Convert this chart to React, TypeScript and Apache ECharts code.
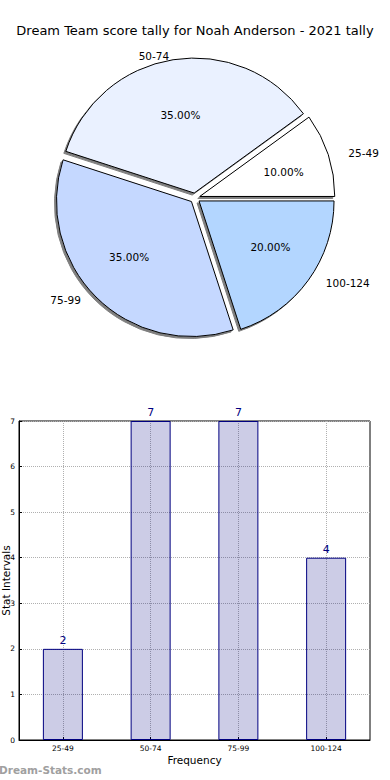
import React, { useEffect, useRef } from "react";
import * as echarts from "echarts";

const titleText = "Dream Team score tally for Noah Anderson - 2021 tally";
const categories = ["25-49", "50-74", "75-99", "100-124"];
const counts = [2, 7, 7, 4];
const pieColors = ["#FFFFFF", "#EAF1FF", "#C5D8FF", "#B3D6FF"];
const yMin = 0;
const yMax = 7;
const yStep = 1;
const xAxisName = "Frequency";
const yAxisName = "Stat Intervals";
const watermark = "Dream-Stats.com";

const FONT = "DejaVu Sans";
const PIE_CX = 195;
const PIE_CY = 198;

// stretch label positions slightly (horizontal wider, vertical flatter) like the reference
const ellipseLabelLayout = (params: any) => {
  const r = params.labelRect;
  const mx = r.x + r.width / 2;
  const my = r.y + r.height / 2;
  return { dx: (mx - PIE_CX) * 0.05, dy: (my - PIE_CY) * -0.06 };
};

export default function App() {
  const ref = useRef<HTMLDivElement>(null);
  useEffect(() => {
    if (!ref.current) return;
    const chart = echarts.init(ref.current, null, { renderer: "svg" });
    const pieData = categories.map((c, i) => ({
      name: c,
      value: counts[i],
      selected: true,
      itemStyle: { color: pieColors[i] },
    }));
    const pieCommon = {
      type: "pie",
      center: [PIE_CX, PIE_CY],
      startAngle: 0,
      clockwise: false,
      selectedMode: "multiple",
      selectedOffset: 5,
      avoidLabelOverlap: false,
      emphasis: { disabled: true },
      animation: false,
      labelLayout: ellipseLabelLayout,
    };
    chart.setOption({
      animation: false,
      backgroundColor: "#ffffff",
      textStyle: { fontFamily: FONT },
      title: {
        text: titleText,
        left: "center",
        top: 19,
        textStyle: { fontFamily: FONT, fontSize: 13, fontWeight: "normal", color: "#000" },
      },
      grid: {
        left: 19,
        right: 20,
        top: 421,
        bottom: 40,
        outerBoundsMode: "none",
        containLabel: false,
        show: true,
        borderColor: "#000",
        borderWidth: 1,
        backgroundColor: "transparent",
      },
      xAxis: {
        type: "category",
        data: categories,
        name: xAxisName,
        nameLocation: "middle",
        nameGap: 14,
        nameMoveOverlap: false,
        nameTextStyle: { fontFamily: FONT, fontSize: 10.5, color: "#000" },
        axisLine: { show: true, lineStyle: { color: "#000" } },
        axisTick: { show: true, alignWithLabel: true, inside: true, length: 3, lineStyle: { color: "#000" } },
        axisLabel: { fontFamily: FONT, fontSize: 7.5, color: "#000", margin: 4 },
        splitLine: { show: true, alignWithLabel: true, lineStyle: { color: "#b0b0b0", type: "dotted" } },
      },
      yAxis: {
        type: "value",
        min: yMin,
        max: yMax,
        interval: yStep,
        name: yAxisName,
        nameLocation: "middle",
        nameGap: 8,
        nameMoveOverlap: false,
        nameTextStyle: { fontFamily: FONT, fontSize: 10.5, lineHeight: 10, color: "#000" },
        axisLine: { show: true, lineStyle: { color: "#000" } },
        axisTick: { show: true, inside: true, length: 3, lineStyle: { color: "#000" } },
        axisLabel: { fontFamily: FONT, fontSize: 7.5, color: "#000", margin: 4 },
        splitLine: { show: true, lineStyle: { color: "#b0b0b0", type: "dotted" } },
      },
      series: [
        {
          ...pieCommon,
          radius: 135,
          data: pieData,
          itemStyle: {
            borderColor: "#000",
            borderWidth: 1,
            shadowColor: "rgba(0,0,0,0.5)",
            shadowBlur: 1,
            shadowOffsetX: -2,
            shadowOffsetY: 2,
          },
          label: {
            show: true,
            position: "outside",
            formatter: "{b}",
            fontFamily: FONT,
            fontSize: 10.5,
            color: "#000",
            distanceToLabelLine: 0,
          },
          labelLine: { show: false, length: 13, length2: 0 },
        },
        {
          ...pieCommon,
          radius: [27, 135],
          silent: true,
          z: 3,
          data: pieData.map((d) => ({ ...d, itemStyle: { color: "rgba(0,0,0,0)" } })),
          itemStyle: { color: "rgba(0,0,0,0)", borderWidth: 0 },
          label: {
            show: true,
            position: "inside",
            formatter: (p: any) => p.percent.toFixed(2) + "%",
            fontFamily: FONT,
            fontSize: 10.5,
            color: "#000",
          },
          labelLine: { show: false },
        },
        {
          type: "bar",
          data: counts,
          barWidth: 40,
          itemStyle: { color: "rgba(0,0,128,0.2)", borderColor: "#000080", borderWidth: 1 },
          label: {
            show: true,
            position: "top",
            distance: 3,
            fontFamily: FONT,
            fontSize: 11,
            color: "#000080",
          },
        },
      ],
      graphic: [
        {
          type: "text",
          left: -1,
          top: 764,
          style: {
            text: watermark,
            fontFamily: FONT,
            fontSize: 10.5,
            fontWeight: "bold",
            fill: "#a0a0a0",
          },
        },
      ],
    });
    return () => chart.dispose();
  }, []);
  return (
    <div
      ref={ref}
      style={{ position: "fixed", left: 0, top: 0, width: 390, height: 780 }}
    />
  );
}
